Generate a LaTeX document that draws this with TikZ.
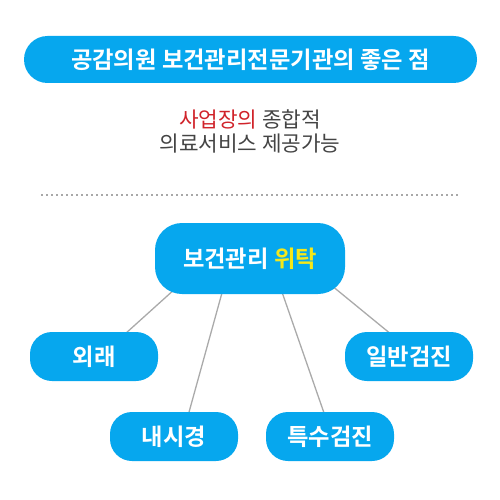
\documentclass[tikz,border=0pt]{standalone}
\usepackage{fontspec}
\setmainfont{Noto Sans CJK KR}[BoldFont={Noto Sans CJK KR Bold}]
\usetikzlibrary{calc,backgrounds}
\definecolor{skyb}{HTML}{06A7EE}
\definecolor{ylw}{HTML}{F5E81A}
\definecolor{redt}{HTML}{D0232A}
\definecolor{grayt}{HTML}{444444}
\definecolor{linkg}{HTML}{AAAAAA}
\definecolor{dotg}{HTML}{A8A8A8}
\tikzset{
  pill/.style={fill=skyb, text=white, inner sep=0pt, font=\bfseries\fontsize{23.3}{26}\selectfont},
  leaf/.style={pill, minimum width=128pt, minimum height=49pt, rounded corners=22pt},
  link/.style={draw=linkg, line width=1.3pt}
}
\begin{document}
\begin{tikzpicture}[x=1pt,y=-1pt]
\useasboundingbox (0,0) rectangle (500,500);
\node[pill, minimum width=453pt, minimum height=47pt, rounded corners=23.5pt] (title) at (250.5,59.5) {공감의원 보건관리전문기관의 좋은 점};
\node[align=center, text=grayt, font=\fontsize{21.3}{23.5}\selectfont] (sub) at (250,131.5) {\textcolor{redt}{사업장의} 종합적\\의료서비스 제공가능};
\coordinate (dl) at (41,195);
\coordinate (dr) at (460,195);
\draw[dotg, line width=1.5pt, dash pattern=on 1.5pt off 3.5pt] (dl) -- (dr);
\node[pill, minimum width=190pt, minimum height=71pt, rounded corners=27pt] (c) at (250,258.5) {보건관리 \textcolor{ylw}{위탁}};
\node[leaf] (a) at (94,356.5) {외래};
\node[leaf] (d) at (409,356.5) {일반검진};
\node[leaf] (b) at (174,436.5) {내시경};
\node[leaf] (s) at (330,436.5) {특수검진};
\begin{scope}[on background layer]
\draw[link] ($(c.south)+(-72,-8)$) -- ($(a.north)+(29,4)$);
\draw[link] ($(c.south)+(-27,-5)$) -- ($(b.north)+(14,4)$);
\draw[link] ($(c.south)+(31,-5)$) -- ($(s.north)+(-5,4)$);
\draw[link] ($(c.south)+(80,-10)$) -- ($(d.north)+(-16,4)$);
\end{scope}
\end{tikzpicture}
\end{document}
